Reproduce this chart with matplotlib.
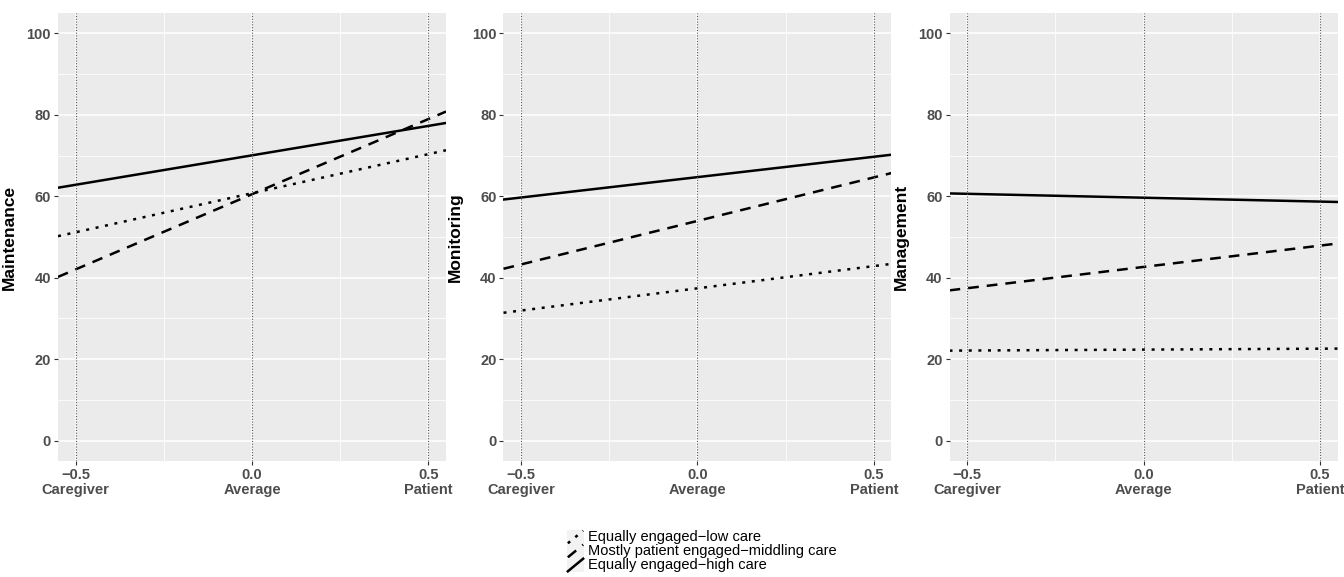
import matplotlib
matplotlib.use("Agg")
import matplotlib.pyplot as plt
from matplotlib.ticker import MultipleLocator

plt.rcParams['font.family'] = ['Liberation Sans', 'DejaVu Sans']

# data: fitted lines, values at the two ends of the x range
x_ends = [-0.55, 0.55]
panel_names = ['Maintenance', 'Monitoring', 'Management']
groups = ['Equally engaged\u2212low care',
          'Mostly patient engaged\u2212middling care',
          'Equally engaged\u2212high care']
maintenance_low = [50.2, 71.3]
maintenance_mid = [40.2, 80.8]
maintenance_high = [62.1, 78.0]
monitoring_low = [31.4, 43.4]
monitoring_mid = [42.2, 65.7]
monitoring_high = [59.2, 70.2]
management_low = [22.1, 22.6]
management_mid = [36.9, 48.4]
management_high = [60.7, 58.6]
x_ticks = [-0.5, 0.0, 0.5]
x_tick_labels = ['\u22120.5\nCaregiver', '0.0\nAverage', '0.5\nPatient']
y_ticks = [0, 20, 40, 60, 80, 100]

series = [
    [maintenance_low, maintenance_mid, maintenance_high],
    [monitoring_low, monitoring_mid, monitoring_high],
    [management_low, management_mid, management_high],
]

W, H = 1344, 577
fig = plt.figure(figsize=(W / 100, H / 100), dpi=100)

LW = 1.8
styles = [dict(dashes=(1.2, 2.65)), dict(dashes=(4.3, 3.2)), dict(linestyle='-')]
tick_col = '#4D4D4D'
lefts = [58, 503.5, 949.5]
pw, top, bottom = 388, 13, 461

for i, name in enumerate(panel_names):
    ax = fig.add_axes([lefts[i] / W, 1 - bottom / H, pw / W, (bottom - top) / H])
    ax.set_facecolor('#EBEBEB')
    for s in ax.spines.values():
        s.set_visible(False)
    ax.set_xlim(-0.55, 0.55)
    ax.set_ylim(-5, 105)
    ax.set_xticks(x_ticks)
    ax.set_xticklabels(x_tick_labels, fontsize=10.5, fontweight='bold',
                       color=tick_col, linespacing=1.1)
    ax.set_yticks(y_ticks)
    ax.set_yticklabels([str(v) for v in y_ticks], fontsize=10.5,
                       fontweight='bold', color=tick_col)
    ax.xaxis.set_minor_locator(MultipleLocator(0.25))
    ax.yaxis.set_minor_locator(MultipleLocator(10))
    ax.grid(which='major', color='white', linewidth=1.1)
    ax.grid(which='minor', color='white', linewidth=0.55)
    ax.tick_params(which='major', length=3, width=0.8, color='#333333', pad=2)
    ax.tick_params(which='minor', length=0)
    ax.set_axisbelow(True)
    for ys, st in zip(series[i], styles):
        ax.plot(x_ends, ys, color='black', linewidth=LW, **st)
    for xv in x_ticks:
        ax.axvline(xv, color='#555555', linewidth=0.8, linestyle=(0, (1, 1.5)))
    ax.set_ylabel(name, fontsize=12.5, fontweight='bold', color='black')
    ax.yaxis.set_label_coords(-0.105, 0.5)

# legend, drawn as small key boxes with diagonal lines
key_x, key_w, key_h, key_top = 567, 17, 14, 530
for j, (label, st) in enumerate(zip(groups, styles)):
    y0 = key_top + key_h * j
    kax = fig.add_axes([key_x / W, 1 - (y0 + key_h) / H, key_w / W, key_h / H])
    kax.set_xlim(0, 1)
    kax.set_ylim(0, 1)
    kax.axis('off')
    kax.add_patch(plt.Rectangle((0, 0), 1, 1, color='#F2F2F2', zorder=0))
    kax.plot([0.05, 0.95], [0.05, 0.95], color='black', linewidth=LW,
             clip_on=False, **st)
    fig.text(588 / W, 1 - (y0 + key_h / 2) / H, label, fontsize=10.5,
             va='center', ha='left', color='black')

fig.savefig('out.png', dpi=100, facecolor='white')
